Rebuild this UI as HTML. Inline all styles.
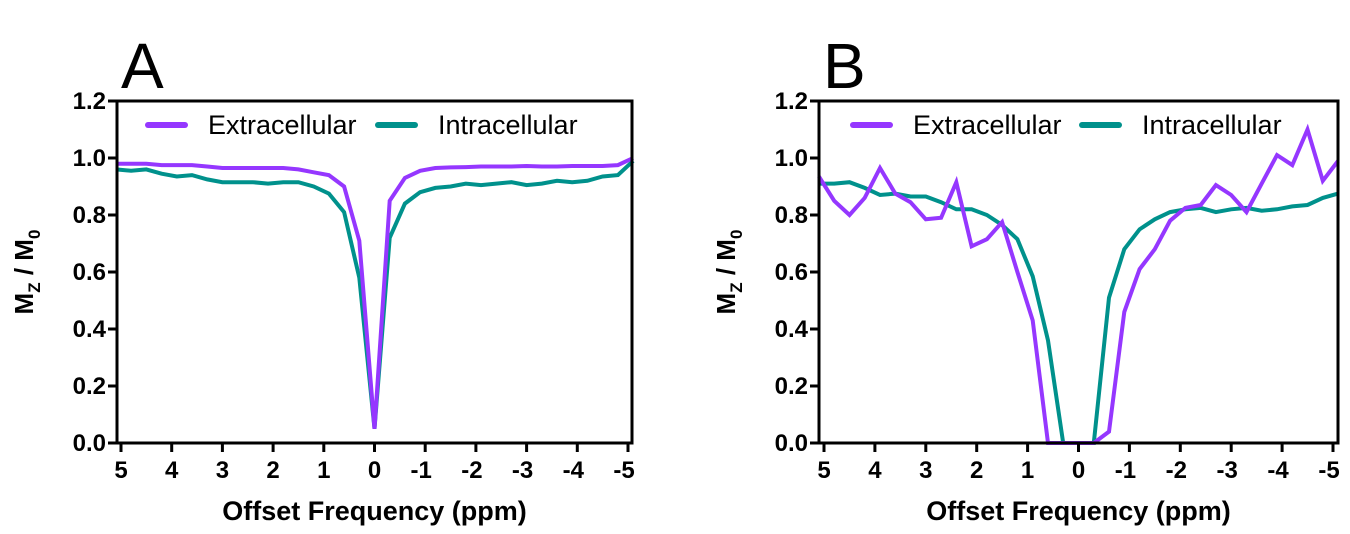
<!DOCTYPE html>
<html><head><meta charset="utf-8"><style>
html,body{margin:0;padding:0;background:#fff;}
svg{display:block;font-family:"Liberation Sans",Arial,sans-serif;}
</style></head><body>
<svg id="chart" width="1350" height="534" viewBox="0 0 1350 534"></svg>
<script>
const xOffsets = [5.1,4.8,4.5,4.2,3.9,3.6,3.3,3.0,2.7,2.4,2.1,1.8,1.5,1.2,0.9,0.6,0.3,0,-0.3,-0.6,-0.9,-1.2,-1.5,-1.8,-2.1,-2.4,-2.7,-3.0,-3.3,-3.6,-3.9,-4.2,-4.5,-4.8,-5.1];
const aExtra = [0.98,0.98,0.98,0.975,0.975,0.975,0.97,0.965,0.965,0.965,0.965,0.965,0.96,0.95,0.94,0.90,0.71,0.05,0.85,0.93,0.955,0.965,0.967,0.968,0.97,0.97,0.97,0.972,0.97,0.97,0.972,0.972,0.972,0.975,1.0];
const aIntra = [0.96,0.955,0.96,0.945,0.935,0.94,0.925,0.915,0.915,0.915,0.91,0.915,0.915,0.90,0.875,0.81,0.58,0.05,0.72,0.84,0.88,0.895,0.90,0.91,0.905,0.91,0.915,0.905,0.91,0.92,0.915,0.92,0.935,0.94,0.99];
const bExtra = [0.935,0.85,0.80,0.86,0.965,0.875,0.845,0.785,0.79,0.915,0.69,0.715,0.775,0.60,0.43,0,0,0,0,0.04,0.46,0.61,0.68,0.78,0.825,0.835,0.905,0.87,0.81,0.91,1.01,0.975,1.10,0.92,0.99];
const bIntra = [0.91,0.91,0.915,0.895,0.87,0.875,0.865,0.865,0.845,0.82,0.82,0.80,0.765,0.715,0.585,0.36,0,0,0,0.51,0.68,0.75,0.785,0.81,0.82,0.825,0.81,0.82,0.825,0.815,0.82,0.83,0.835,0.86,0.875];
const xTicks = [5,4,3,2,1,0,-1,-2,-3,-4,-5];
const yTicks = [0.0,0.2,0.4,0.6,0.8,1.0,1.2];
const seriesNames = ["Extracellular","Intracellular"];

const NS="http://www.w3.org/2000/svg";
const svg=document.getElementById('chart');
function mk(tag,attrs,parent){const e=document.createElementNS(NS,tag);for(const k in attrs)e.setAttribute(k,attrs[k]);(parent||svg).appendChild(e);return e;}
const PURPLE="#9537ff", TEAL="#00918c";

function panel(cfg){
  const g=mk('g',{});
  
  
  const top=101,bot=443;
  const xs=v=>cfg.x5+(5-v)*(cfg.xm5-cfg.x5)/10;
  const ys=v=>bot-v*(bot-top)/1.2;
  const L=mk('text',{x:cfg.left+4,y:88,'font-size':64,fill:'#000'},g);L.textContent=cfg.letter;
  
  
  const sers=[[cfg.intra,TEAL],[cfg.extra,PURPLE]];
  sers.forEach((s,si)=>{
    const d=s[0].map((v,i)=>(i?'L':'M')+xs(xOffsets[i]).toFixed(1)+','+ys(v).toFixed(1)).join(' ');
    const p=mk('path',{d:d,fill:'none',stroke:s[1],'stroke-width':4,'stroke-linejoin':'miter'},g);
    
    
  });
  const fr=mk('rect',{x:cfg.left,y:top,width:cfg.right-cfg.left,height:bot-top,fill:'none',stroke:'#000','stroke-width':3},g);
  
  
  yTicks.forEach(t=>{
    const y=ys(t);
    mk('line',{x1:cfg.left-9,x2:cfg.left,y1:y,y2:y,stroke:'#000','stroke-width':3},g);
    const tx=mk('text',{x:cfg.left-11,y:y+8,'font-size':24,'font-weight':'bold','text-anchor':'end'},g);
    tx.textContent=t.toFixed(1);
    
    
  });
  xTicks.forEach(t=>{
    const x=xs(t);
    mk('line',{x1:x,x2:x,y1:bot,y2:bot+9,stroke:'#000','stroke-width':3},g);
    const tx=mk('text',{x:x-(t<0?4:0),y:bot+35,'font-size':24,'font-weight':'bold','text-anchor':'middle'},g);
    tx.textContent=String(t);
    
    
  });
  const xt=mk('text',{x:(cfg.left+cfg.right)/2,y:520,'font-size':27,'font-weight':'bold','text-anchor':'middle'},g);
  xt.textContent='Offset Frequency (ppm)';
  
  
  const yt=mk('text',{x:0,y:0,'font-size':26,'font-weight':'bold','text-anchor':'middle',transform:`translate(${cfg.left-84},272) rotate(-90)`},g);
  yt.innerHTML='M<tspan font-size="17" dy="7">Z</tspan><tspan dy="-7"> / M</tspan><tspan font-size="17" dy="7">0</tspan>';
  
  
  const lg=[[PURPLE,seriesNames[0],cfg.leg[0]],[TEAL,seriesNames[1],cfg.leg[1]]];
  lg.forEach((l,i)=>{
    const le=mk('g',{},g);
    
    
    mk('line',{x1:l[2],x2:l[2]+37,y1:125,y2:125,stroke:l[0],'stroke-width':6,'stroke-linecap':'round'},le);
    const t=mk('text',{x:l[2]+60,y:134,'font-size':27},le);t.textContent=l[1];
  });
}
panel({letter:'A',left:117,right:632,x5:121,xm5:628,extra:aExtra,intra:aIntra,leg:[148,378]});
panel({letter:'B',left:819,right:1338,x5:824,xm5:1333,extra:bExtra,intra:bIntra,leg:[853,1082]});
</script>
</body></html>
